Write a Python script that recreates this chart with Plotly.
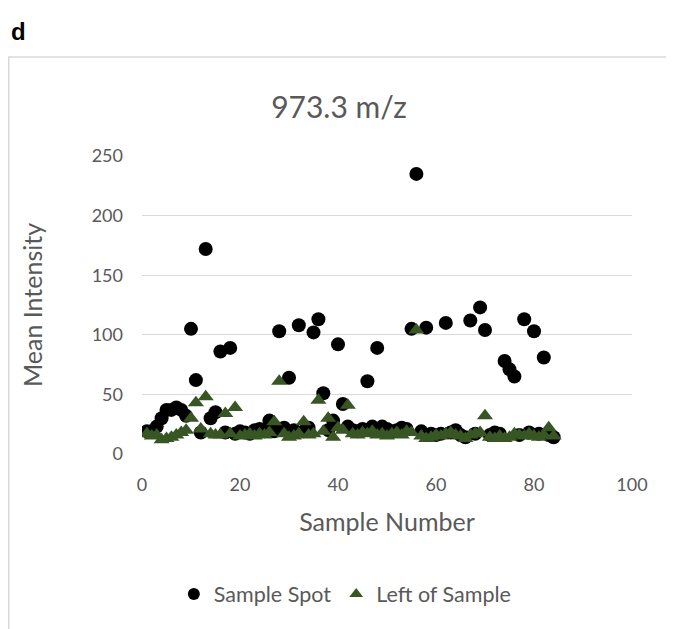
import plotly.graph_objects as go

sample_number = list(range(1, 85))

sample_spot = [
    19, 19, 23, 30, 37, 37, 39, 37, 32, 105,
    62, 18, 172, 30, 35, 86, 18, 89, 17, 19,
    18, 17, 20, 21, 19, 28, 19, 103, 22, 64,
    20, 108, 19, 22, 102, 113, 51, 20, 28, 92,
    42, 23, 20, 19, 21, 61, 23, 89, 23, 21,
    19, 20, 22, 21, 105, 235, 19, 106, 17, 16,
    17, 110, 18, 20, 16, 14, 112, 17, 123, 104,
    16, 18, 17, 78, 71, 65, 16, 113, 18, 103,
    17, 81, 16, 14,
]

left_of_sample = [
    17, 15, 16, 12, 13, 14, 16, 18, 20, 30,
    43, 21, 48, 17, 16, 16, 34, 17, 39, 15,
    16, 17, 15, 17, 16, 18, 27, 61, 17, 14,
    15, 17, 27, 16, 17, 45, 19, 30, 14, 22,
    20, 41, 17, 16, 18, 17, 19, 16, 17, 15,
    17, 18, 16, 19, 18, 104, 15, 13, 14, 16,
    15, 17, 18, 16, 15, 13, 16, 17, 18, 32,
    14, 13, 15, 13, 14, 17, 16, 15, 17, 15,
    14, 16, 22, 15,
]

x_ticks = [0, 20, 40, 60, 80, 100]
y_ticks = [0, 50, 100, 150, 200, 250]

FONT = "Lato"
GREY = "#595959"

W, H = 666, 621
L, T = 134, 148
PW, PH = 490, 298

fig = go.Figure()
fig.add_trace(go.Scatter(
    x=sample_number, y=sample_spot, mode="markers", name="Sample Spot",
    marker=dict(symbol="circle", size=14, color="black"),
))
fig.add_trace(go.Scatter(
    x=sample_number, y=left_of_sample, mode="markers", name="Left of Sample",
    marker=dict(symbol="triangle-up", size=14, color="#375623"),
))

fig.update_layout(
    width=W, height=H,
    margin=dict(l=L, r=W - L - PW, t=T, b=H - T - PH),
    paper_bgcolor="white", plot_bgcolor="white",
    font=dict(family=FONT, color=GREY, size=18),
    title=dict(text="973.3 m/z", x=(339 - 8) / W, xref="container", xanchor="center",
               y=1 - 99 / H, yanchor="middle",
               font=dict(family=FONT, size=30, color=GREY)),
    xaxis=dict(range=[0, 100], tickvals=x_ticks, showgrid=False, zeroline=False,
               showline=False, ticks="", tickfont=dict(size=18, color=GREY),
               ticklabelstandoff=18,
               title=dict(text="Sample Number", font=dict(size=25, color=GREY), standoff=19)),
    yaxis=dict(range=[0, 250], tickvals=y_ticks, showgrid=True, gridcolor="#d9d9d9",
               gridwidth=1, zeroline=False, showline=False, ticks="",
               tickfont=dict(size=18, color=GREY), ticklabelstandoff=18,
               title=dict(text="Mean Intensity", font=dict(size=25, color=GREY), standoff=41)),
    legend=dict(orientation="h", x=0.415, xanchor="center", y=(454 - 594) / PH,
                yanchor="middle", font=dict(size=21.5, color=GREY),
                itemsizing="constant", bgcolor="rgba(0,0,0,0)"),
    showlegend=True,
    shapes=[dict(type="rect", xref="paper", yref="paper",
                 x0=(0.8 - L) / PW, x1=(W + 20 - L) / PW,
                 y0=(PH + T - H - 20) / PH, y1=(454 - 57) / PH,
                 line=dict(color="#d9d9d9", width=1.5), fillcolor="rgba(0,0,0,0)", layer="below")],
    annotations=[dict(text="<b>d</b>", xref="paper", yref="paper",
                      x=(9 - 142) / PW, y=(454 - 31) / PH, xanchor="left", yanchor="middle",
                      showarrow=False, font=dict(family="Liberation Sans Narrow, Liberation Sans", size=24, color="black"))],
)

fig.write_html("out.html")
